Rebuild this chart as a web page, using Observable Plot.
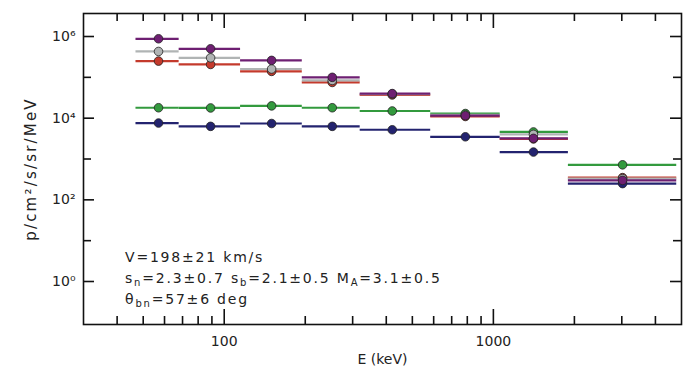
<!DOCTYPE html>
<html><head><meta charset="utf-8">
<script src="https://cdn.jsdelivr.net/npm/d3@7"></script>
<script src="https://cdn.jsdelivr.net/npm/@observablehq/plot@0.6"></script>
<style>body{margin:0;background:#fff}#chart{width:686px;height:382px}</style>
</head><body><div id="chart"></div>
<script>
// ---- data ----
const binLo  = [47, 68, 115, 195, 320, 585, 1060, 1900];
const binHi  = [68, 115, 195, 320, 585, 1060, 1900, 4800];
const binMid = [57, 89, 150, 252, 421, 787, 1409, 3020];
const seriesNames  = ["S5", "S4", "S3", "S2", "S1"];
const seriesColors = ["#23236f", "#339a3e", "#c43a2c", "#b0b4b4", "#6e1f72"];
const s5 = [7.6e3, 6.3e3, 7.4e3, 6.3e3, 5.2e3, 3.5e3, 1.48e3, 2.5e2];
const s4 = [1.8e4, 1.78e4, 2.0e4, 1.8e4, 1.5e4, 1.3e4, 4.6e3, 7.2e2];
const s3 = [2.5e5, 2.07e5, 1.4e5, 7.5e4, 3.7e4, 1.1e4, 3.1e3, 3.5e2];
const s2 = [4.3e5, 3.0e5, 1.6e5, 8.4e4, 3.9e4, 1.2e4, 4.0e3, 3.3e2];
const s1 = [8.8e5, 5.0e5, 2.6e5, 1.0e5, 4.0e4, 1.15e4, 3.2e3, 3.0e2];
const seriesValues = [s5, s4, s3, s2, s1];

const xMajor = [100, 1000];
const xMinor = [40, 50, 60, 70, 80, 90, 200, 300, 400, 500, 600, 700, 800, 900, 2000, 3000, 4000];
const yMajor = [1, 1e2, 1e4, 1e6];
const yMinor = [10, 1e3, 1e5];
const xTickLabels = ["100", "1000"];
const yTickLabels = ["10\u2070", "10\u00b2", "10\u2074", "10\u2076"];
const xLabel = "E (keV)";
const yLabel = "p/cm\u00b2/s/sr/MeV";
const annotationLines = [
  [["V=198\u00b121 km/s", 0]],
  [["s", 0], ["n", 1], ["=2.3\u00b10.7 s", 0], ["b", 1], ["=2.1\u00b10.5 M", 0], ["A", 1], ["=3.1\u00b10.5", 0]],
  [["\u03b8", 0], ["bn", 1], ["=57\u00b16 deg", 0]]
];

// ---- table ----
const rows = [];
seriesNames.forEach((s, i) => {
  seriesValues[i].forEach((v, j) => rows.push({series: s, lo: binLo[j], hi: binHi[j], mid: binMid[j], v}));
});

const W = 686, H = 382, mL = 83, mR = 5, mT = 13, mB = 58;
const fW = W - mL - mR, fH = H - mT - mB;
const font = "DejaVu Sans, sans-serif";

function annotation(index, scales, values, dims) {
  const g = d3.create("svg:g").attr("font-family", font).attr("font-size", 14)
    .attr("fill", "#222").attr("text-anchor", "start").style("letter-spacing", "1.8px");
  const x0 = dims.marginLeft + 42;
  const base = dims.height - dims.marginBottom;
  const offs = [62, 41, 20];
  annotationLines.forEach((line, i) => {
    const t = g.append("text").attr("x", x0).attr("y", base - offs[i]).attr("text-anchor", "start");
    let sub = false;
    line.forEach(([s, isSub]) => {
      const ts = t.append("tspan").text(s);
      if (isSub && !sub) { ts.attr("dy", 3).attr("font-size", 10); sub = true; }
      else if (isSub) { ts.attr("font-size", 10); }
      else if (sub) { ts.attr("dy", -3); sub = false; }
    });
  });
  return g.node();
}

const plot = Plot.plot({
  width: W, height: H,
  marginLeft: mL, marginRight: mR, marginTop: mT, marginBottom: mB,
  style: {fontFamily: font, background: "#fff", color: "#222"},
  x: {type: "log", domain: [30, 5000], axis: null},
  y: {type: "log", domain: [0.0885, 3.66e6], axis: null},
  color: {type: "ordinal", domain: seriesNames, range: seriesColors},
  marks: [
    Plot.ruleY(rows, {y: "v", x1: "lo", x2: "hi", stroke: "series", strokeWidth: 2.2}),
    Plot.dot(rows, {x: "mid", y: "v", fill: "series", stroke: "#222", strokeWidth: 0.8, r: 4.3}),
    Plot.frame({stroke: "#111", strokeWidth: 1.6}),
    Plot.tickX(xMajor, {x: d => d, insetTop: fH - 15, stroke: "#111", strokeWidth: 1.6}),
    Plot.tickX(xMajor, {x: d => d, insetBottom: fH - 15, stroke: "#111", strokeWidth: 1.6}),
    Plot.tickX(xMinor, {x: d => d, insetTop: fH - 8, stroke: "#111", strokeWidth: 1.6}),
    Plot.tickX(xMinor, {x: d => d, insetBottom: fH - 8, stroke: "#111", strokeWidth: 1.6}),
    Plot.tickY(yMajor, {y: d => d, insetRight: fW - 11, stroke: "#111", strokeWidth: 1.6}),
    Plot.tickY(yMajor, {y: d => d, insetLeft: fW - 11, stroke: "#111", strokeWidth: 1.6}),
    Plot.tickY(yMinor, {y: d => d, insetRight: fW - 8, stroke: "#111", strokeWidth: 1.6}),
    Plot.tickY(yMinor, {y: d => d, insetLeft: fW - 8, stroke: "#111", strokeWidth: 1.6}),
    Plot.text(xMajor, {x: d => d, text: (d, i) => xTickLabels[i], frameAnchor: "bottom", dy: 21, fontSize: 14, fill: "#222"}),
    Plot.text(yMajor, {y: d => d, text: (d, i) => yTickLabels[i], frameAnchor: "left", dx: -8, textAnchor: "end", fontSize: 14, fill: "#222"}),
    Plot.text([xLabel], {frameAnchor: "bottom", dy: 39, fontSize: 14, fill: "#222"}),
    Plot.text([yLabel], {frameAnchor: "left", textAnchor: "middle", dx: -52, rotate: -90, fontSize: 15, fill: "#222"}),
    annotation
  ]
});
d3.select(plot).selectAll("text").filter(function() { return this.textContent === yLabel; })
  .style("letter-spacing", "2.2px");
document.getElementById("chart").appendChild(plot);
</script></body></html>
